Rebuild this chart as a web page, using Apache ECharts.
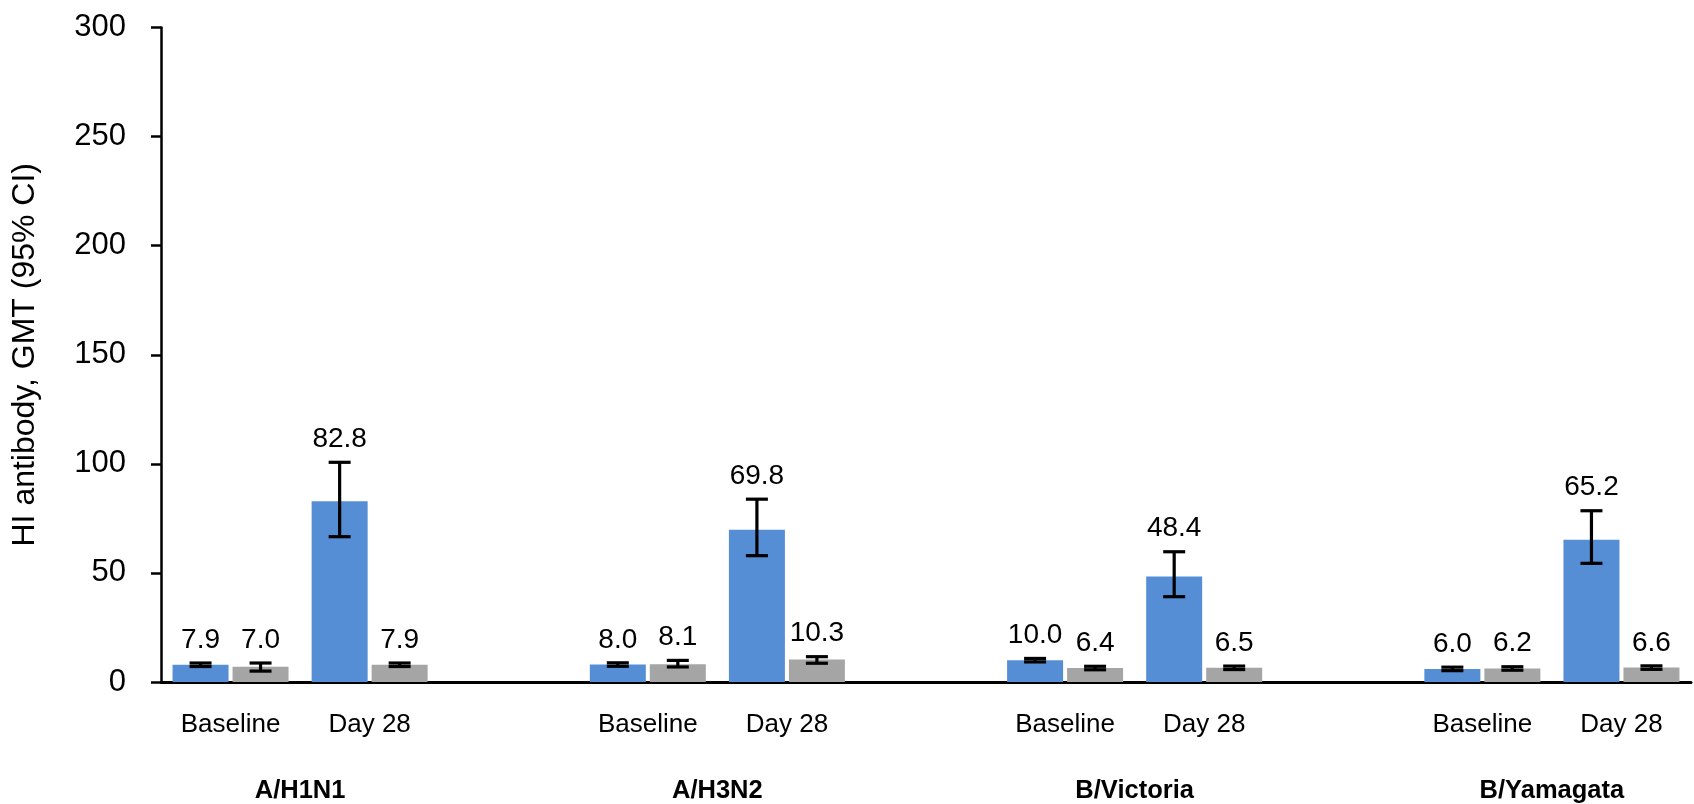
<!DOCTYPE html>
<html>
<head>
<meta charset="utf-8">
<script src="https://cdn.jsdelivr.net/npm/echarts@6/dist/echarts.min.js"></script>
<style>
  html, body { margin: 0; padding: 0; background: #fff; }
  #chart { width: 1694px; height: 804px; }
</style>
</head>
<body>
<div id="chart"></div>
<script>
// ---- data ----
const strains = ['A/H1N1', 'A/H3N2', 'B/Victoria', 'B/Yamagata'];
const timepoints = ['Baseline', 'Day 28'];
// values per strain: [Baseline, Day 28]
const blueGMT  = [7.9, 82.8, 8.0, 69.8, 10.0, 48.4, 6.0, 65.2];
const blueLow  = [7.1, 66.6, 7.2, 57.9, 9.2, 39.1, 5.2, 54.4];
const blueHigh = [8.7, 100.7, 8.8, 83.8, 10.8, 59.7, 6.8, 78.5];
const grayGMT  = [7.0, 7.9, 8.1, 10.3, 6.4, 6.5, 6.2, 6.6];
const grayLow  = [5.0, 7.1, 6.9, 8.6, 5.6, 5.7, 5.4, 5.8];
const grayHigh = [8.7, 8.7, 9.9, 11.6, 7.2, 7.3, 7.0, 7.4];
const yTicks = [0, 50, 100, 150, 200, 250, 300];
const yAxisTitle = 'HI antibody, GMT (95% CI)';

// ---- build category layout: Baseline, Day 28, gap, ... ----
const categories = [];
const catIndexOf = []; // data index -> category index
strains.forEach((s, si) => {
  timepoints.forEach((t, ti) => {
    catIndexOf.push(categories.length);
    categories.push(t);
  });
  if (si < strains.length - 1) categories.push('');
});
const nCat = categories.length;
function fullSeries(arr) {
  const out = new Array(nCat).fill(null);
  arr.forEach((v, i) => { out[catIndexOf[i]] = v; });
  return out;
}
function errData(vals, lows, highs) {
  return vals.map((v, i) => [catIndexOf[i], lows[i], highs[i], v]);
}
// strain label positions on a value axis spanning [0, nCat]
const strainAt = {};
strains.forEach((s, si) => {
  const c = (catIndexOf[si * 2] + catIndexOf[si * 2 + 1]) / 2 + 0.5;
  strainAt[c] = s;
});

const FONT = "'Liberation Sans', Arial, sans-serif";
const BAR_W = 56;
const BAR_GAP_PX = 4;
const OFF = (BAR_W + BAR_GAP_PX) / 2;

function makeErr(offset) {
  return function (params, api) {
    const ci = api.value(0);
    const x = api.coord([ci, 0])[0] + offset;
    const yl = api.coord([ci, api.value(1)])[1];
    const yh = api.coord([ci, api.value(2)])[1];
    const half = 11;
    const st = { stroke: '#000', lineWidth: 3.2 };
    return {
      type: 'group',
      children: [
        { type: 'line', shape: { x1: x, y1: yl, x2: x, y2: yh }, style: st },
        { type: 'line', shape: { x1: x - half, y1: yl, x2: x + half, y2: yl }, style: st },
        { type: 'line', shape: { x1: x - half, y1: yh, x2: x + half, y2: yh }, style: st },
        { type: 'text', style: { text: Number(api.value(3)).toFixed(1), x: x, y: yh - 9,
            align: 'center', verticalAlign: 'bottom', fill: '#000', fontSize: 28, fontFamily: FONT } }
      ]
    };
  };
}

const chart = echarts.init(document.getElementById('chart'));
chart.setOption({
  animation: false,
  backgroundColor: '#fff',
  grid: { left: 161, right: -12, top: 27.5, bottom: 122, containLabel: false },
  xAxis: [
    {
      type: 'category',
      data: categories,
      boundaryGap: true,
      axisLine: { show: true, lineStyle: { color: '#000', width: 3 } },
      axisTick: { show: false },
      axisLabel: { interval: 0, color: '#000', fontSize: 26, fontFamily: FONT, margin: 30 },
      splitLine: { show: false }
    },
    {
      type: 'value',
      position: 'bottom',
      min: 0, max: nCat, interval: 1,
      axisLine: { show: false },
      axisTick: { show: false },
      splitLine: { show: false },
      axisLabel: {
        margin: 96, color: '#000', fontSize: 25.5, fontWeight: 'bold', fontFamily: FONT,
        showMinLabel: true, showMaxLabel: true,
        formatter: v => strainAt[v] || ''
      }
    }
  ],
  yAxis: {
    type: 'value',
    min: yTicks[0], max: yTicks[yTicks.length - 1], interval: yTicks[1] - yTicks[0],
    name: yAxisTitle,
    nameLocation: 'middle',
    nameGap: 120,
    nameTextStyle: { color: '#000', fontSize: 32, fontFamily: FONT },
    axisLine: { show: true, lineStyle: { color: '#000', width: 2.5 } },
    axisTick: { show: true, length: 10, inside: false, lineStyle: { color: '#000', width: 2.5 } },
    axisLabel: { color: '#000', fontSize: 31, fontFamily: FONT, margin: 35 },
    splitLine: { show: false }
  },
  series: [
    {
      name: 'Vaccine', type: 'bar', data: fullSeries(blueGMT),
      barWidth: BAR_W, barGap: (BAR_GAP_PX / BAR_W * 100) + '%',
      itemStyle: { color: '#558ED5' }, z: 2
    },
    {
      name: 'Placebo', type: 'bar', data: fullSeries(grayGMT),
      barWidth: BAR_W,
      itemStyle: { color: '#A5A5A5' }, z: 2
    },
    {
      type: 'custom', renderItem: makeErr(-OFF), data: errData(blueGMT, blueLow, blueHigh),
      z: 5, silent: true, clip: false
    },
    {
      type: 'custom', renderItem: makeErr(OFF), data: errData(grayGMT, grayLow, grayHigh),
      z: 5, silent: true, clip: false
    }
  ]
});
</script>
</body>
</html>
